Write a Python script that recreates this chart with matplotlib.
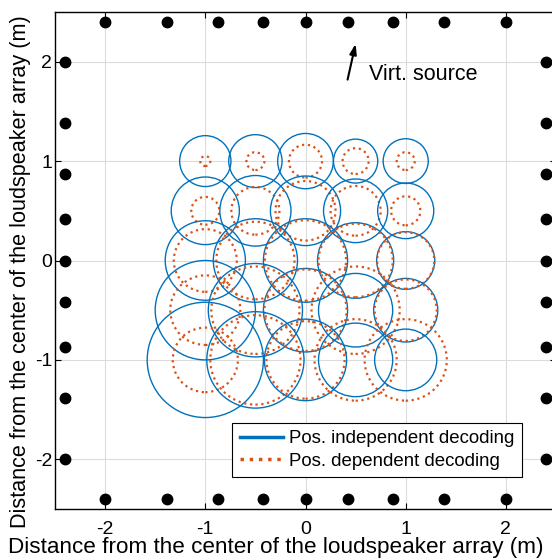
import matplotlib
matplotlib.use("Agg")
import matplotlib.pyplot as plt
from matplotlib.patches import Circle
from matplotlib.lines import Line2D

plt.rcParams['font.family'] = ['Liberation Sans', 'DejaVu Sans']
plt.rcParams['axes.unicode_minus'] = False

BLUE = '#0072BD'
RED = '#D95319'

# grid of listener positions (m)
grid_x = [-1.0, -0.5, 0.0, 0.5, 1.0]
grid_y = [1.0, 0.5, 0.0, -0.5, -1.0]

# radii, one row per grid_y value, columns follow grid_x
r_indep = [
    [0.256, 0.266, 0.278, 0.221, 0.225],
    [0.340, 0.355, 0.350, 0.320, 0.280],
    [0.400, 0.420, 0.420, 0.380, 0.290],
    [0.500, 0.470, 0.420, 0.370, 0.320],
    [0.580, 0.485, 0.410, 0.370, 0.310],
]
r_dep = [
    [0.050, 0.090, 0.165, 0.130, 0.090],
    [0.140, 0.240, 0.300, 0.250, 0.146],
    [0.315, 0.390, 0.405, 0.370, 0.285],
    [0.350, 0.440, 0.410, 0.440, 0.310],
    [0.325, 0.450, 0.390, 0.410, 0.410],
]

# loudspeaker layout (square array)
spk_side = [-2.0, -1.38, -0.87, -0.42, 0.0, 0.42, 0.87, 1.38, 2.0]
spk_edge = 2.4

arrow_tail = (0.42, 1.82)
arrow_head = (0.50, 2.18)

fig = plt.figure(figsize=(5.52, 5.6), dpi=100)
ax = fig.add_axes([55 / 552, 1 - 509 / 560, 501 / 552, 497 / 560])

for j, y in enumerate(grid_y):
    for i, x in enumerate(grid_x):
        ax.add_patch(Circle((x, y), r_indep[j][i], fill=False, ec=BLUE, lw=1.0))
        ax.add_patch(Circle((x, y), r_dep[j][i], fill=False, ec=RED, lw=1.6, ls=':'))

spk_x = spk_side + spk_side + [-spk_edge] * len(spk_side) + [spk_edge] * len(spk_side)
spk_y = [spk_edge] * len(spk_side) + [-spk_edge] * len(spk_side) + spk_side + spk_side
ax.plot(spk_x, spk_y, 'o', color='black', ms=7.5, clip_on=False, zorder=5)

ax.annotate('', xy=arrow_head, xytext=arrow_tail,
            arrowprops=dict(arrowstyle='-|>,head_length=0.6,head_width=0.2', color='black',
                            lw=1.5, mutation_scale=10, shrinkA=0, shrinkB=0))
ax.text(0.63, 1.87, 'Virt. source', fontsize=15.5, va='center', ha='left')

ax.set_xlim(-2.5, 2.5)
ax.set_ylim(-2.5, 2.5)
ax.set_xticks([-2, -1, 0, 1, 2])
ax.set_yticks([-2, -1, 0, 1, 2])
ax.tick_params(direction='in', top=True, right=True, labelsize=14, length=4)
ax.tick_params(axis='x', pad=9)
ax.tick_params(axis='y', pad=2)
ax.grid(True, color='#dcdcdc', lw=0.8)
ax.set_axisbelow(True)
for s in ax.spines.values():
    s.set_linewidth(1.0)

ax.set_xlabel('Distance from the center of the loudspeaker array (m)', fontsize=16.2)
ax.set_ylabel('Distance from the center of the loudspeaker array (m)', fontsize=15.6)
# labels sit centred on the figure rather than on the axes
ax.xaxis.set_label_coords((276 - 55) / 501, (509 - 537) / 497)
ax.yaxis.set_label_coords((31 - 55) / 501, (509 - 272) / 497)

handles = [Line2D([], [], color=BLUE, lw=2.5),
           Line2D([], [], color=RED, lw=2.5, ls=':')]
leg = ax.legend(handles, ['Pos. independent decoding', 'Pos. dependent decoding'],
                loc='lower right', bbox_to_anchor=(0.932, 0.064), borderaxespad=0,
                fontsize=13.4, fancybox=False, edgecolor='black', framealpha=1,
                handlelength=2.3, handletextpad=0.35, borderpad=0.4, labelspacing=0.3)
leg.get_frame().set_linewidth(0.8)

fig.savefig('out.png', dpi=100)
